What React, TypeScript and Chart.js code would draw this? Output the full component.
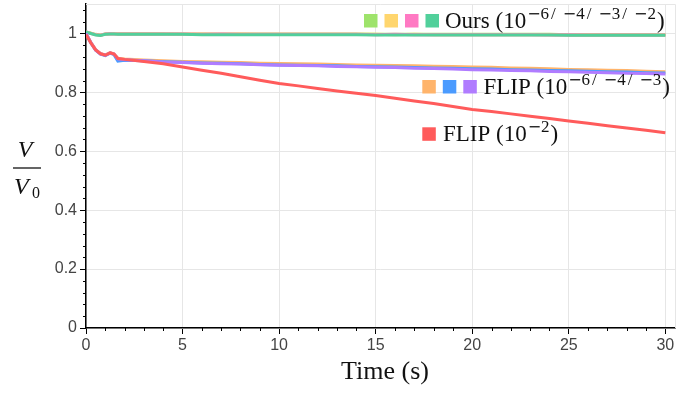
import React, { useEffect, useRef } from "react";
import { Chart, registerables } from "chart.js";

Chart.register(...registerables);

const times = [0, 0.25, 0.5, 0.75, 1, 1.25, 1.45, 1.65, 2, 3, 4, 5, 6, 7, 8, 9, 10, 11, 12, 13, 14, 15, 16, 17, 18, 19, 20, 21, 22, 23, 24, 25, 26, 27, 28, 29, 30];

const ours6 = [1.004, 1.001, 0.997, 0.995, 0.998, 0.999, 0.999, 0.999, 0.999, 0.999, 0.999, 0.998, 0.998, 0.998, 0.998, 0.998, 0.998, 0.998, 0.998, 0.998, 0.998, 0.997, 0.997, 0.997, 0.997, 0.997, 0.997, 0.997, 0.997, 0.997, 0.997, 0.996, 0.996, 0.996, 0.996, 0.996, 0.996];
const ours4 = [1.005, 1.001, 0.996, 0.994, 0.998, 0.999, 0.999, 0.998, 0.998, 0.998, 0.998, 0.998, 0.998, 0.997, 0.998, 0.997, 0.997, 0.997, 0.997, 0.997, 0.997, 0.997, 0.996, 0.997, 0.996, 0.996, 0.996, 0.996, 0.996, 0.996, 0.996, 0.995, 0.996, 0.995, 0.995, 0.995, 0.995];
const ours3 = [1.005, 1.0, 0.996, 0.994, 0.998, 0.999, 0.998, 0.998, 0.998, 0.998, 0.998, 0.998, 0.997, 0.998, 0.997, 0.997, 0.997, 0.997, 0.997, 0.997, 0.997, 0.996, 0.997, 0.996, 0.996, 0.996, 0.996, 0.996, 0.996, 0.996, 0.995, 0.996, 0.995, 0.995, 0.995, 0.995, 0.995];
const ours2 = [1.005, 1.0, 0.995, 0.993, 0.997, 0.998, 0.998, 0.997, 0.997, 0.997, 0.997, 0.997, 0.996, 0.996, 0.996, 0.996, 0.996, 0.996, 0.996, 0.996, 0.996, 0.995, 0.995, 0.995, 0.995, 0.995, 0.995, 0.995, 0.995, 0.995, 0.995, 0.994, 0.994, 0.994, 0.994, 0.994, 0.994];

const flip6 = [1.0, 0.97, 0.945, 0.932, 0.927, 0.935, 0.931, 0.916, 0.913, 0.91, 0.907, 0.905, 0.904, 0.902, 0.901, 0.899, 0.898, 0.897, 0.896, 0.895, 0.893, 0.892, 0.891, 0.89, 0.889, 0.888, 0.886, 0.885, 0.883, 0.882, 0.88, 0.878, 0.877, 0.875, 0.874, 0.872, 0.87];
const flip4 = [1.0, 0.968, 0.943, 0.93, 0.925, 0.933, 0.928, 0.906, 0.909, 0.907, 0.904, 0.902, 0.9, 0.899, 0.897, 0.895, 0.893, 0.892, 0.891, 0.89, 0.888, 0.887, 0.886, 0.884, 0.883, 0.882, 0.88, 0.879, 0.877, 0.876, 0.874, 0.873, 0.872, 0.87, 0.869, 0.867, 0.866];
const flip3 = [1.0, 0.969, 0.944, 0.931, 0.926, 0.934, 0.93, 0.914, 0.911, 0.907, 0.903, 0.901, 0.899, 0.897, 0.896, 0.894, 0.892, 0.891, 0.89, 0.888, 0.887, 0.885, 0.884, 0.882, 0.881, 0.879, 0.877, 0.876, 0.874, 0.873, 0.871, 0.87, 0.868, 0.867, 0.865, 0.864, 0.862];
const flip2 = [0.996, 0.968, 0.944, 0.931, 0.926, 0.934, 0.93, 0.915, 0.912, 0.905, 0.897, 0.886, 0.875, 0.865, 0.853, 0.841, 0.83, 0.822, 0.813, 0.805, 0.797, 0.789, 0.78, 0.771, 0.762, 0.752, 0.742, 0.735, 0.727, 0.719, 0.711, 0.703, 0.695, 0.687, 0.679, 0.671, 0.663];

const xTicks = [0, 5, 10, 15, 20, 25, 30];
const yTicks = [0, 0.2, 0.4, 0.6, 0.8, 1];

const C = {
  lgreen: "#9ee36b",
  yellow: "#ffd66e",
  pink: "#ff79c3",
  green: "#51d09b",
  orange: "#ffb46b",
  blue: "#4b9bff",
  purple: "#b07cff",
  red: "#ff5b5b",
};

const SERIF = '"Liberation Serif", "DejaVu Serif", serif';
const SANS = '"Liberation Sans", Arial, sans-serif';
const MINUS_FONT = '"DejaVu Sans", sans-serif';

// superscript exponents, e.g. ["6","4","3","2"] -> −6/−4/−3/−2
function drawLegendLabel(ctx: CanvasRenderingContext2D, x: number, base: number, main: string, exps: string[]) {
  ctx.fillStyle = "#111";
  ctx.textAlign = "left";
  ctx.textBaseline = "alphabetic";
  ctx.font = `23px ${SERIF}`;
  ctx.fillText(main, x, base);
  x += ctx.measureText(main).width + 1;
  const sb = base - 9;
  exps.forEach((e, i) => {
    if (i > 0) {
      ctx.font = `17px ${SERIF}`;
      x += 2;
      ctx.fillText("/", x, sb);
      x += ctx.measureText("/").width + 7;
    }
    ctx.font = `16px ${MINUS_FONT}`;
    ctx.fillText("\u2212", x, sb);
    x += ctx.measureText("\u2212").width;
    ctx.font = `17px ${SERIF}`;
    ctx.fillText(e, x, sb);
    x += ctx.measureText(e).width;
  });
  x += 1;
  ctx.font = `23px ${SERIF}`;
  ctx.fillText(")", x, base);
}

const decor = {
  id: "decor",
  beforeDatasetsDraw(chart: any) {
    const { ctx, chartArea } = chart;
    ctx.save();
    ctx.strokeStyle = "#e6e6e6";
    ctx.lineWidth = 1;
    ctx.beginPath();
    ctx.moveTo(chartArea.left, chartArea.top + 0.5);
    ctx.lineTo(chartArea.right + 0.5, chartArea.top + 0.5);
    ctx.lineTo(chartArea.right + 0.5, chartArea.bottom);
    ctx.stroke();
    ctx.restore();
  },
  afterDraw(chart: any) {
    const { ctx, chartArea, scales } = chart;
    const xs = scales.x;
    const ys = scales.y;
    ctx.save();
    // minor ticks
    ctx.strokeStyle = "#000";
    ctx.lineWidth = 1;
    ctx.beginPath();
    for (let v = 1; v <= 30; v++) {
      if (v % 5 === 0) continue;
      const px = Math.round(xs.getPixelForValue(v)) + 0.5;
      ctx.moveTo(px, chartArea.bottom);
      ctx.lineTo(px, chartArea.bottom + 3);
    }
    for (let i = 1; i <= 27; i++) {
      if (i % 5 === 0) continue;
      const py = Math.round(ys.getPixelForValue(i * 0.04)) + 0.5;
      ctx.moveTo(chartArea.left, py);
      ctx.lineTo(chartArea.left - 3, py);
    }
    ctx.stroke();

    // legend
    const sq = 13.5;
    const rows = [
      { colors: [C.lgreen, C.yellow, C.pink, C.green], x0: 364, top: 14, tx: 445, base: 27.5, main: "Ours (10", exps: ["6", "4", "3", "2"] },
      { colors: [C.orange, C.blue, C.purple], x0: 422.3, top: 80, tx: 483.5, base: 93.5, main: "FLIP (10", exps: ["6", "4", "3"] },
      { colors: [C.red], x0: 422.3, top: 127.3, tx: 443, base: 140.8, main: "FLIP (10", exps: ["2"] },
    ];
    for (const r of rows) {
      r.colors.forEach((c, i) => {
        ctx.fillStyle = c;
        ctx.fillRect(r.x0 + i * 20.5, r.top, sq, sq);
      });
      drawLegendLabel(ctx, r.tx, r.base, r.main, r.exps);
    }

    // x title
    ctx.fillStyle = "#111";
    ctx.font = `26px ${SERIF}`;
    ctx.textAlign = "center";
    ctx.textBaseline = "alphabetic";
    ctx.fillText("Time (s)", 385, 379);

    // y title fraction V / V0
    ctx.font = `italic 24px ${SERIF}`;
    ctx.textAlign = "center";
    ctx.fillText("V", 25, 157);
    ctx.strokeStyle = "#111";
    ctx.lineWidth = 1.3;
    ctx.beginPath();
    ctx.moveTo(13, 168);
    ctx.lineTo(41, 168);
    ctx.stroke();
    ctx.textAlign = "left";
    ctx.fillText("V", 14, 194);
    ctx.font = `16px ${SERIF}`;
    ctx.fillText("0", 32, 198);
    ctx.restore();
  },
};

export default function App() {
  const ref = useRef<HTMLCanvasElement>(null);
  useEffect(() => {
    const mk = (data: number[], color: string) => ({
      data: times.map((t, i) => ({ x: t, y: data[i] })),
      borderColor: color,
      backgroundColor: color,
      borderWidth: 3,
      pointRadius: 0,
      tension: 0,
      fill: false,
    });
    const chart = new Chart(ref.current!, {
      type: "line",
      data: {
        datasets: [
          mk(flip2, C.red),
          mk(flip3, C.purple),
          mk(flip4, C.blue),
          mk(flip6, C.orange),
          mk(ours2, C.green),
          mk(ours3, C.pink),
          mk(ours4, C.yellow),
          mk(ours6, C.lgreen),
        ],
      },
      options: {
        animation: false,
        responsive: false,
        devicePixelRatio: 1,
        events: [],
        layout: { padding: { left: 0, top: 4, right: 24, bottom: 0 } },
        plugins: { legend: { display: false }, tooltip: { enabled: false } },
        scales: {
          x: {
            type: "linear",
            min: 0,
            max: 30.5,
            afterFit: (s: any) => { s.height = 66; s.paddingLeft = 0; s.paddingRight = 0; },
            afterBuildTicks: (s: any) => { s.ticks = xTicks.map((v) => ({ value: v })); },
            ticks: { includeBounds: false, color: "#444", font: { family: SANS, size: 16 }, padding: 2, maxRotation: 0, callback: (v: any) => String(v) },
            grid: { color: "#e6e6e6", tickColor: "#000", tickLength: 6, lineWidth: 1 },
            border: { color: "#000", width: 1.5 },
          },
          y: {
            type: "linear",
            min: 0,
            max: 1.1,
            afterFit: (s: any) => { s.width = 86; s.paddingTop = 0; s.paddingBottom = 0; },
            afterBuildTicks: (s: any) => { s.ticks = yTicks.map((v) => ({ value: v })); },
            ticks: { includeBounds: false, color: "#444", font: { family: SANS, size: 16 }, padding: 3, callback: (v: any) => String(Number(Number(v).toFixed(1))) },
            grid: { color: "#e6e6e6", tickColor: "#000", tickLength: 6, lineWidth: 1 },
            border: { color: "#000", width: 1.5 },
          },
        },
      },
      plugins: [decor],
    } as any);
    return () => chart.destroy();
  }, []);
  return (
    <div style={{ position: "absolute", left: 0, top: 0, width: 699, height: 394, background: "#fff" }}>
      <canvas ref={ref} width={699} height={394} style={{ display: "block" }} />
    </div>
  );
}
